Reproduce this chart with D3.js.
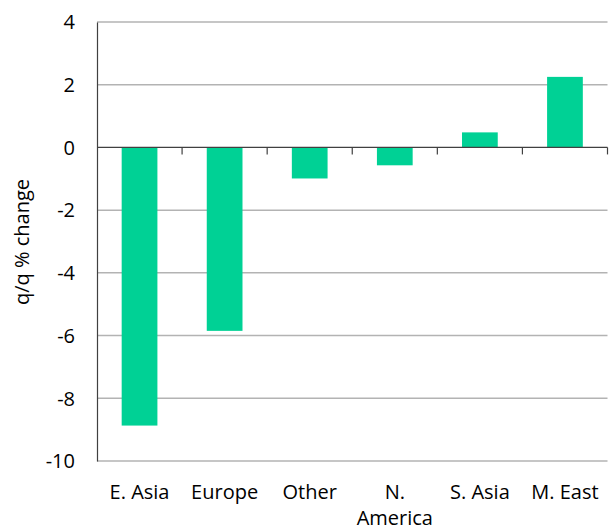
<!DOCTYPE html>
<html><head><meta charset="utf-8">
<script src="https://cdn.jsdelivr.net/npm/d3@7"></script>
<style>body{margin:0;background:#fff}svg{display:block}text{font-family:"Open Sans",sans-serif;fill:#000}</style>
</head><body><svg id="c" width="616" height="531"></svg>
<script>
const categories = ["E. Asia","Europe","Other","N. America","S. Asia","M. East"];
const values = [-8.87,-5.85,-0.99,-0.57,0.48,2.25];
const yTicks = [4,2,0,-2,-4,-6,-8,-10];

const FS = 20;
const svg = d3.select("#c");
const L=97,R=607.5,T=22,B=461;
const x = d3.scaleBand().domain(categories).range([L,R]).paddingInner(0.58).paddingOuter(0.29);
const y = d3.scaleLinear().domain([-10,4]).range([B,T]);

// gridlines
svg.append("g").selectAll("line").data(yTicks.filter(d=>d!==0)).join("line")
  .attr("x1",L).attr("x2",R).attr("y1",d=>y(d)).attr("y2",d=>y(d))
  .attr("stroke","#b3b3b3").attr("stroke-width",1.5);

// bars
svg.append("g").selectAll("rect").data(values).join("rect")
  .attr("x",(d,i)=>x(categories[i])).attr("width",x.bandwidth())
  .attr("y",d=>y(Math.max(0,d))).attr("height",d=>Math.abs(y(d)-y(0)))
  .attr("fill","#00d195");

// y axis
const ya = svg.append("g").attr("transform",`translate(${L},0)`)
  .call(d3.axisLeft(y).tickValues(yTicks).tickSize(0).tickPadding(22).tickFormat(d=>String(d)));
ya.attr("font-size",null).attr("font-family",null);
ya.select(".domain").attr("stroke","#404040").attr("stroke-width",1.2);
ya.selectAll("text").style("font-size",FS+"px").attr("dy","0.34em");

// zero line with ticks at band boundaries
const zl = svg.append("g");
zl.append("line").attr("x1",L).attr("x2",R).attr("y1",y(0)).attr("y2",y(0)).attr("stroke","#404040").attr("stroke-width",1.2);
const step = (R-L)/categories.length;
zl.selectAll("line.t").data(d3.range(1,categories.length+1)).join("line").attr("class","t")
  .attr("x1",i=>L+i*step).attr("x2",i=>L+i*step).attr("y1",y(0)).attr("y2",y(0)+7)
  .attr("stroke","#404040").attr("stroke-width",1.2);

// x labels
const xl = svg.append("g");
categories.forEach((c,i)=>{
  const cx = x(c)+x.bandwidth()/2;
  const lines = c==="N. America" ? ["N.","America"] : [c];
  const t = xl.append("text").attr("text-anchor","middle").style("font-size",FS+"px");
  lines.forEach((ln,j)=>t.append("tspan").attr("x",cx).attr("y",499+j*26).text(ln));
});

// y title
svg.append("text").attr("transform","translate(29,242) rotate(-90)").attr("text-anchor","middle")
  .style("font-size",FS+"px").text("q/q % change");
</script></body></html>
